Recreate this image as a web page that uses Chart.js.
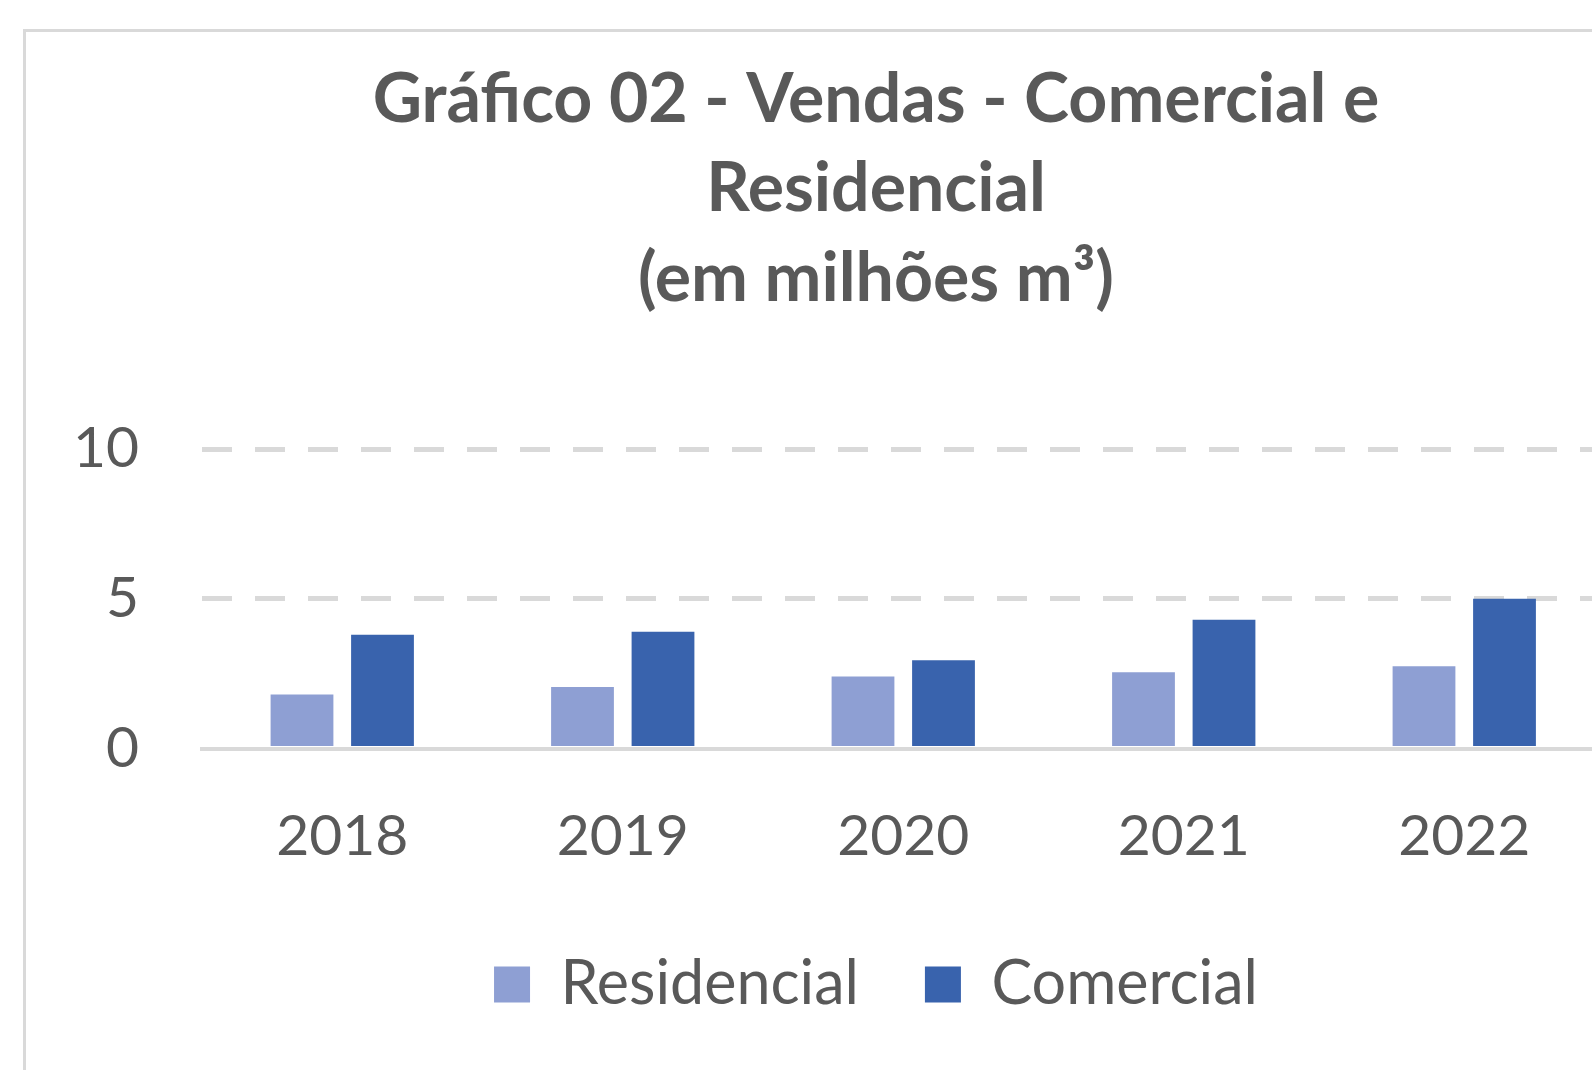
<!DOCTYPE html>
<html>
<head>
<meta charset="utf-8">
<script src="https://cdn.jsdelivr.net/npm/chart.js@4.4.1/dist/chart.umd.min.js"></script>
<style>
  html, body { margin: 0; padding: 0; background: #fff; overflow: hidden; }
  #grafico { position: absolute; left: 0; top: 0; }
  #marco {
    position: absolute; left: 23px; top: 29px; width: 2000px; height: 2000px;
    border-left: 3px solid #d9d9d9; border-top: 3px solid #d9d9d9;
    pointer-events: none;
  }
</style>
</head>
<body>
<canvas id="grafico" width="1725" height="1070"></canvas>
<div id="marco"></div>
<script>
"use strict";

const anos = ["2018", "2019", "2020", "2021", "2022"];
const residencial = [1.8, 2.05, 2.4, 2.55, 2.75];
const comercial = [3.8, 3.9, 2.95, 4.3, 5.0];
const tituloLinhas = ["Gráfico 02 - Vendas - Comercial e", "Residencial", "(em milhões m³)"];
const yMin = 0;
const yMax = 10;
const yPasso = 5;

const CINZA = "#595959";
const FONTE = "Lato";

const ctx = document.getElementById("grafico").getContext("2d");

new Chart(ctx, {
  type: "bar",
  data: {
    labels: anos,
    datasets: [
      {
        label: "Residencial",
        data: residencial,
        backgroundColor: "#8E9FD3",
        borderWidth: 0,
        categoryPercentage: 0.574,
        barPercentage: 0.78
      },
      {
        label: "Comercial",
        data: comercial,
        backgroundColor: "#3963AD",
        borderWidth: 0,
        categoryPercentage: 0.574,
        barPercentage: 0.78
      }
    ]
  },
  options: {
    responsive: false,
    animation: false,
    layout: {
      padding: { left: 27, top: 33, right: 0, bottom: 45 }
    },
    plugins: {
      tooltip: { enabled: false },
      title: {
        display: true,
        text: tituloLinhas,
        color: CINZA,
        font: { family: FONTE, size: 68, weight: "bold", lineHeight: 89.5 / 68 },
        padding: { top: 22, bottom: 125.5 }
      },
      legend: {
        position: "bottom",
        labels: {
          color: CINZA,
          font: { family: FONTE, size: 61 },
          boxWidth: 36,
          boxHeight: 36,
          padding: 66
        }
      }
    },
    scales: {
      x: {
        grid: { display: false, drawTicks: false },
        border: { display: true, color: "#d9d9d9", width: 4 },
        ticks: {
          color: CINZA,
          font: { family: FONTE, size: 57 },
          padding: 54,
          maxRotation: 0
        },
        afterFit: s => { s.height = 139.5; }
      },
      y: {
        min: yMin,
        max: yMax,
        grid: {
          drawTicks: false,
          lineWidth: 5,
          color: c => (c.tick && c.tick.value === 0 ? "rgba(0,0,0,0)" : "#d9d9d9")
        },
        border: { display: false, dash: [30, 23] },
        ticks: {
          stepSize: yPasso,
          color: CINZA,
          font: { family: FONTE, size: 57 },
          padding: 63
        },
        afterFit: s => { s.width = 175; }
      },
      yDireita: {
        position: "right",
        display: true,
        grid: { display: false, drawTicks: false },
        border: { display: false },
        ticks: { display: false },
        afterFit: s => { s.width = 120.5; }
      }
    }
  }
});
</script>
</body>
</html>
